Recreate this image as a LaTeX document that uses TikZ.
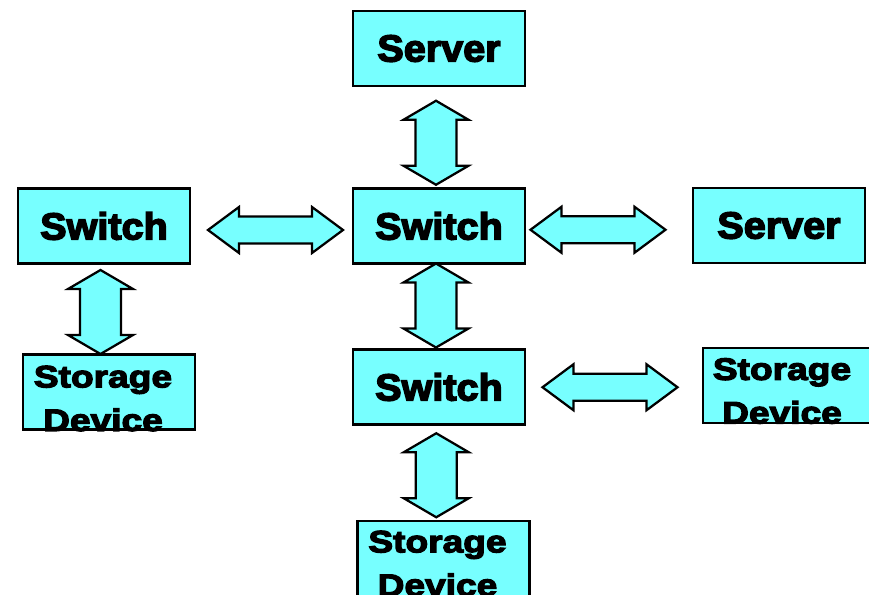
\documentclass[tikz,border=0pt]{standalone}
\usepackage{fontspec}
\usetikzlibrary{calc}
\newfontfamily\boxfont[FakeBold=4,FakeStretch=1.05]{Liberation Sans Bold}
\newfontfamily\storefont[FakeBold=4,FakeStretch=1.2]{Liberation Sans Bold}
\definecolor{boxcyan}{RGB}{119,255,255}
\begin{document}
\begin{tikzpicture}[x=0.025cm,y=-0.025cm,line join=miter]
			\tikzset{
				box/.style={draw=black,fill=boxcyan,line width=1.6pt,minimum width=4.3cm,minimum height=1.875cm,inner sep=0pt,font=\boxfont\fontsize{26.8pt}{30pt}\selectfont},
				storetext/.style={align=center,inner sep=0pt,font=\storefont\fontsize{22pt}{31pt}\selectfont},
				blockarrow/.style={draw=black,fill=boxcyan,line width=1.6pt},
				pics/vdouble/.style={code={\draw[blockarrow] (0,-42)--(32.5,-23)--(20.5,-23)--(20.5,23)--(32.5,23)--(0,42)--(-32.5,23)--(-20.5,23)--(-20.5,-23)--(-32.5,-23)--cycle;}},
				pics/hdouble/.style={code={\draw[blockarrow] (-67.5,0)--(-36.5,-23)--(-36.5,-13.5)--(36.5,-13.5)--(36.5,-23)--(67.5,0)--(36.5,23)--(36.5,13.5)--(-36.5,13.5)--(-36.5,23)--cycle;}}
			}
			\useasboundingbox (0,0) rectangle (869,594);
			\clip (0,0) rectangle (869,594);
			% boxes
			\node[box] (srvtop) at (439,48.5) {Server};
			\node[box] (swmid) at (439,226) {Switch};
			\node[box] (swleft) at (104,226) {Switch};
			\node[box] (srvright) at (779,225.5) {Server};
			\node[box] (swlow) at (439,387) {Switch};
			\node[box] (sdleft) at (109,392) {};
			\node[box] (sdright) at (789,385.5) {};
			\node[box] (sdlow) at (443.5,558.5) {};
			\node[storetext] (sdleftlabel) at ($(sdleft.center)+(-6,6.5)$) {Storage\\Device};
			\node[storetext] (sdrightlabel) at ($(sdright.center)+(-7,5.5)$) {Storage\\Device};
			\node[storetext] (sdlowlabel) at ($(sdlow.center)+(-6,5)$) {Storage\\Device};
			% double arrows between the boxes
			\pic at ($(srvtop.south)!0.5!(swmid.north)+(-3,5.5)$) {vdouble};
			\pic at ($(swmid.south)!0.5!(swlow.north)+(-3,-1)$) {vdouble};
			\pic at ($(swlow.south)!0.5!(sdlow.north)+(-5,2.5)$) {vdouble};
			\pic at ($(swleft.south)!0.5!(sdleft.north)+(-6,3)$) {vdouble};
			\pic at ($(swleft.east)!0.5!(swmid.west)+(4,4)$) {hdouble};
			\pic at ($(swmid.east)!0.5!(srvright.west)+(-11,4)$) {hdouble};
			\pic at ($(swlow.east)!0.5!(sdright.west)+(-4,1)$) {hdouble};
		\end{tikzpicture}
\end{document}
